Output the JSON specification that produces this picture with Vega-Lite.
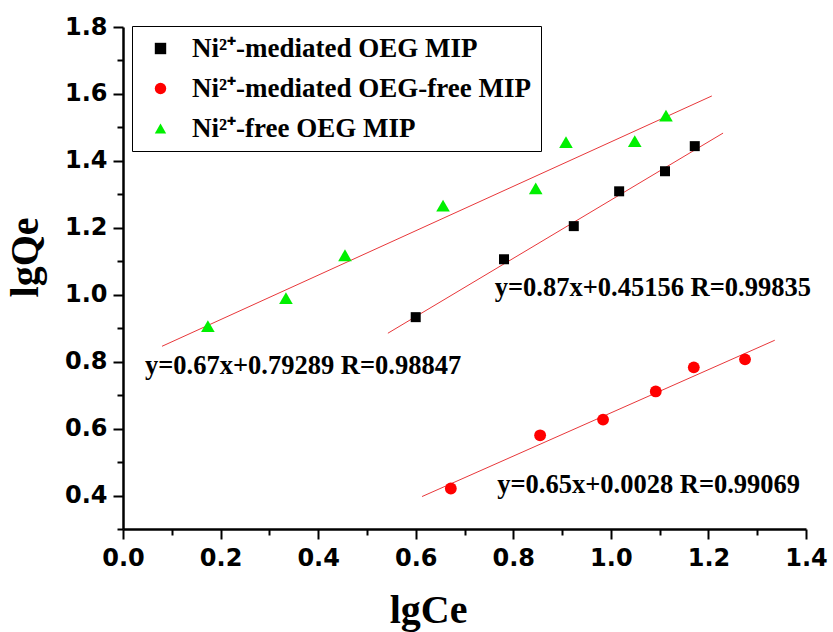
{
  "$schema": "https://vega.github.io/schema/vega-lite/v6.json",
  "width": 683,
  "height": 502,
  "autosize": "none",
  "padding": {"left": 123, "top": 27, "right": 27, "bottom": 103},
  "background": "white",
  "config": {"view": {"stroke": null}, "font": "Liberation Serif"},
  "datasets": {
    "points": [
      {"series": "Ni²⁺-mediated OEG MIP", "x": 0.600, "y": 0.933},
      {"series": "Ni²⁺-mediated OEG MIP", "x": 0.781, "y": 1.106},
      {"series": "Ni²⁺-mediated OEG MIP", "x": 0.924, "y": 1.205},
      {"series": "Ni²⁺-mediated OEG MIP", "x": 1.017, "y": 1.309},
      {"series": "Ni²⁺-mediated OEG MIP", "x": 1.111, "y": 1.369},
      {"series": "Ni²⁺-mediated OEG MIP", "x": 1.172, "y": 1.444},
      {"series": "Ni²⁺-mediated OEG-free MIP", "x": 0.672, "y": 0.421},
      {"series": "Ni²⁺-mediated OEG-free MIP", "x": 0.855, "y": 0.580},
      {"series": "Ni²⁺-mediated OEG-free MIP", "x": 0.984, "y": 0.627},
      {"series": "Ni²⁺-mediated OEG-free MIP", "x": 1.092, "y": 0.711},
      {"series": "Ni²⁺-mediated OEG-free MIP", "x": 1.170, "y": 0.783},
      {"series": "Ni²⁺-mediated OEG-free MIP", "x": 1.275, "y": 0.807},
      {"series": "Ni²⁺-free OEG MIP", "x": 0.174, "y": 0.906},
      {"series": "Ni²⁺-free OEG MIP", "x": 0.334, "y": 0.990},
      {"series": "Ni²⁺-free OEG MIP", "x": 0.455, "y": 1.118},
      {"series": "Ni²⁺-free OEG MIP", "x": 0.656, "y": 1.266},
      {"series": "Ni²⁺-free OEG MIP", "x": 0.846, "y": 1.318},
      {"series": "Ni²⁺-free OEG MIP", "x": 0.908, "y": 1.456},
      {"series": "Ni²⁺-free OEG MIP", "x": 1.049, "y": 1.459},
      {"series": "Ni²⁺-free OEG MIP", "x": 1.113, "y": 1.535}
    ],
    "fits": [
      {"fit": "green", "x": 0.080, "y": 0.846},
      {"fit": "green", "x": 1.207, "y": 1.594},
      {"fit": "black", "x": 0.543, "y": 0.885},
      {"fit": "black", "x": 1.230, "y": 1.483},
      {"fit": "red", "x": 0.613, "y": 0.397},
      {"fit": "red", "x": 1.336, "y": 0.864}
    ],
    "notes": [
      {"label": "y=0.67x+0.79289 R=0.98847", "x": 0.045, "y": 0.786},
      {"label": "y=0.87x+0.45156 R=0.99835", "x": 0.762, "y": 1.019},
      {"label": "y=0.65x+0.0028 R=0.99069", "x": 0.767, "y": 0.430}
    ]
  },
  "encoding": {
    "x": {
      "field": "x", "type": "quantitative",
      "scale": {"domain": [0, 1.4], "nice": false, "zero": false},
      "axis": {
        "values": [0, 0.1, 0.2, 0.3, 0.4, 0.5, 0.6, 0.7, 0.8, 0.9, 1.0, 1.1, 1.2, 1.3, 1.4],
        "labelExpr": "round(datum.value*10)%2==0 ? format(datum.value,'.1f') : ''",
        "tickSize": {"condition": {"test": "round(datum.value*10)%2==0", "value": 10}, "value": 6},
        "tickWidth": 2, "tickColor": "black",
        "domainWidth": 2.5, "domainColor": "black",
        "grid": false,
        "labelFont": "DejaVu Sans", "labelFontWeight": "bold", "labelFontSize": 24,
        "labelColor": "black", "labelPadding": 7, "labelFlush": false,
        "title": "lgCe", "titleFont": "Liberation Serif", "titleFontSize": 40,
        "titleFontWeight": "bold", "titleColor": "black",
        "titleX": 305, "titleY": 93, "titleBaseline": "alphabetic", "titleAlign": "center"
      }
    },
    "y": {
      "field": "y", "type": "quantitative",
      "scale": {"domain": [0.3, 1.8], "nice": false, "zero": false},
      "axis": {
        "values": [0.3, 0.4, 0.5, 0.6, 0.7, 0.8, 0.9, 1.0, 1.1, 1.2, 1.3, 1.4, 1.5, 1.6, 1.7, 1.8],
        "labelExpr": "round(datum.value*10)%2==0 ? format(datum.value,'.1f') : ''",
        "tickSize": {"condition": {"test": "round(datum.value*10)%2==0", "value": 10}, "value": 6},
        "tickWidth": 2, "tickColor": "black",
        "domainWidth": 2.5, "domainColor": "black",
        "grid": false,
        "labelFont": "DejaVu Sans", "labelFontWeight": "bold", "labelFontSize": 24,
        "labelColor": "black", "labelPadding": 6, "labelFlush": false,
        "title": "lgQe", "titleFont": "Liberation Serif", "titleFontSize": 40,
        "titleFontWeight": "bold", "titleColor": "black",
        "titleX": -86, "titleY": 230, "titleAngle": -90, "titleBaseline": "alphabetic", "titleAlign": "center"
      }
    }
  },
  "layer": [
    {
      "data": {"name": "fits"},
      "mark": {"type": "line", "color": "#E8373A", "strokeWidth": 1},
      "encoding": {"detail": {"field": "fit", "type": "nominal"}}
    },
    {
      "data": {"name": "points"},
      "mark": {"type": "point", "filled": true, "opacity": 1},
      "encoding": {
        "shape": {
          "field": "series", "type": "nominal",
          "scale": {"domain": ["Ni²⁺-mediated OEG MIP", "Ni²⁺-mediated OEG-free MIP", "Ni²⁺-free OEG MIP"], "range": ["square", "circle", "triangle-up"]},
          "legend": {
            "orient": "none", "legendX": 9, "legendY": -1, "title": null,
            "strokeColor": "black", "padding": 9, "fillColor": "white",
            "labelFont": "Liberation Serif", "labelFontWeight": "bold", "labelFontSize": 27,
            "labelColor": "black", "labelLimit": 600, "labelOffset": 18,
            "symbolOffset": 6, "symbolSize": 130, "rowPadding": 12, "symbolStrokeWidth": 0,
            "encode": {"legend": {"update": {"strokeWidth": {"value": 1.5}}}}
          }
        },
        "color": {
          "field": "series", "type": "nominal",
          "scale": {"domain": ["Ni²⁺-mediated OEG MIP", "Ni²⁺-mediated OEG-free MIP", "Ni²⁺-free OEG MIP"], "range": ["#000000", "#FF0000", "#00F000"]}
        },
        "size": {
          "condition": [
            {"test": "datum.series == 'Ni²⁺-free OEG MIP'", "value": 185},
            {"test": "datum.series == 'Ni²⁺-mediated OEG-free MIP'", "value": 140}
          ],
          "value": 100
        }
      }
    },
    {
      "data": {"name": "notes"},
      "mark": {"type": "text", "align": "left", "baseline": "middle", "font": "Liberation Serif", "fontWeight": "bold", "fontSize": 26.5, "color": "black"},
      "encoding": {"text": {"field": "label", "type": "nominal"}}
    }
  ]
}
